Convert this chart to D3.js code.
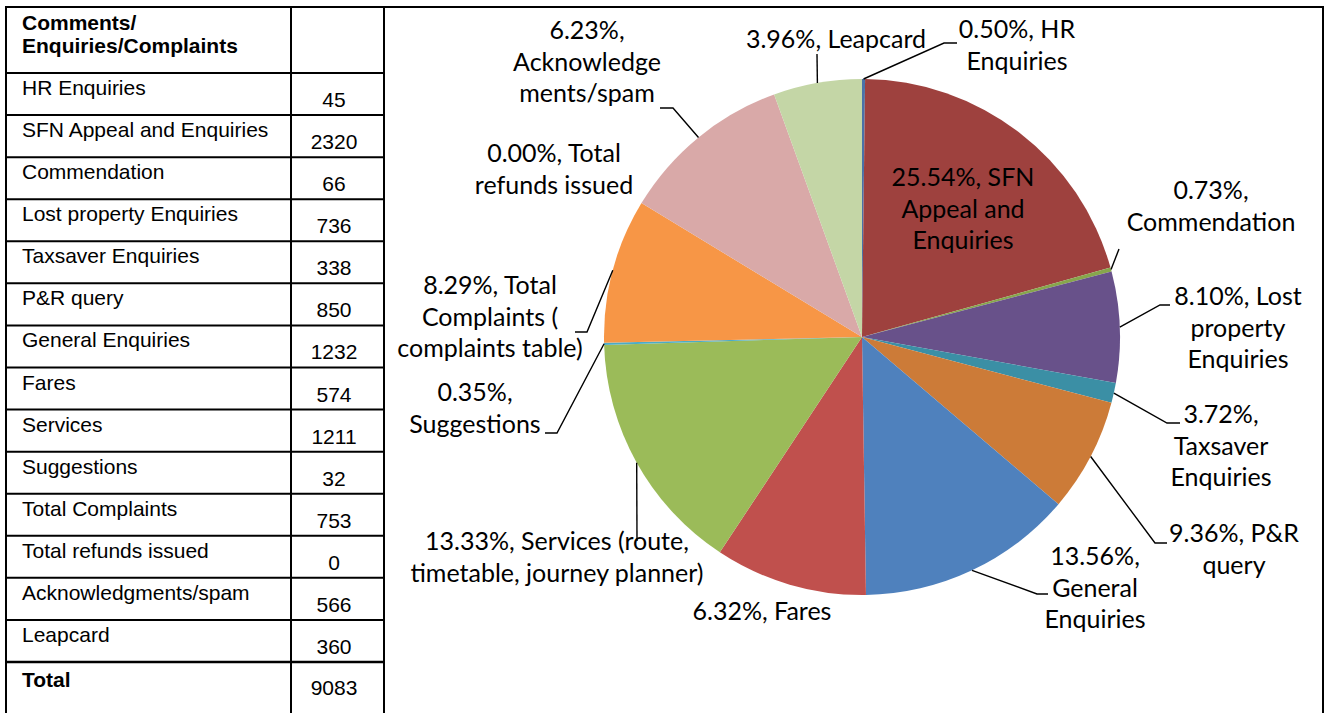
<!DOCTYPE html>
<html>
<head>
<meta charset="utf-8">
<script src="https://cdn.jsdelivr.net/npm/d3@7"></script>
<style>
  body { margin: 0; background: #fff; }
  svg { display: block; }
</style>
</head>
<body>
<div id="chart"></div>
<script>
// table data
var tableLabels = ["HR Enquiries", "SFN Appeal and Enquiries", "Commendation", "Lost property Enquiries",
    "Taxsaver Enquiries", "P&R query", "General Enquiries", "Fares", "Services", "Suggestions",
    "Total Complaints", "Total refunds issued", "Acknowledgments/spam", "Leapcard"];
var counts = [45, 2320, 66, 736, 338, 850, 1232, 574, 1211, 32, 753, 0, 566, 360];
var headerLines = ["Comments/", "Enquiries/Complaints"];
var totalLabel = "Total";

// slice sizes as they are drawn in the pie (% of the circle) - they differ from the labelled %s
var sliceShares = [0.19, 20.47, 0.25, 6.94, 1.25, 7.11, 13.53, 9.53, 15.22, 0.14, 9.03, 0, 10.78, 5.53];

// names used in the data labels, "|" = line break
var pieNames = ["HR|Enquiries", "SFN|Appeal and|Enquiries", "|Commendation", "Lost|property|Enquiries",
    "|Taxsaver|Enquiries", "P&R|query", "|General|Enquiries", "Fares", "Services (route,|timetable, journey planner)",
    "|Suggestions", "Total|Complaints (|complaints table)", "Total|refunds issued", "|Acknowledge|ments/spam", "Leapcard"];

var sliceColors = ["#4A72A8", "#9E413E", "#87A64C", "#68518A", "#3B8FA5", "#CC7B38", "#4F81BD",
    "#C0504D", "#9BBB59", "#4BACC6", "#F79646", "#8064A2", "#D9A9A8", "#C4D6A6"];

// label placement: centre x, first baseline, leader elbow points
var labelLayout = [
    { x: 1017, y: 38, leader: [[944, 43], [957, 43]] },
    { x: 963, y: 186, leader: null },
    { x: 1211, y: 199, leader: [[1119, 249]] },
    { x: 1238, y: 305, leader: [[1160, 305], [1170, 305]] },
    { x: 1221, y: 423, leader: [[1167, 423], [1180, 423]] },
    { x: 1234, y: 542, leader: [[1155, 543], [1167, 543]] },
    { x: 1095, y: 565, leader: [[1037, 594], [1048, 594]] },
    { x: 762, y: 620, leader: null },
    { x: 557, y: 550, leader: [[637, 541]] },
    { x: 475, y: 401, leader: [[557, 433], [545, 433]] },
    { x: 490, y: 294, leader: [[587, 332], [575, 332]] },
    { x: 554, y: 162, leader: null },
    { x: 587, y: 39, leader: [[673, 108], [660, 108]] },
    { x: 836, y: 48, leader: [[817, 54]] }
];

var width = 1327, height = 713;
var svg = d3.select("#chart").append("svg")
    .attr("width", width)
    .attr("height", height);

var total = d3.sum(counts);
var pctFormat = d3.format(".2%");

// ---------- table ----------
var colLeft = 6, colMid = 291, colRight = 384, boxRight = 1323;
var rowY = d3.scaleLinear().domain([0, tableLabels.length]).range([73, 662]);

var grid = svg.append("g").attr("stroke", "#000").attr("stroke-width", 2);
grid.append("line").attr("x1", colLeft - 1).attr("x2", boxRight + 1).attr("y1", 7).attr("y2", 7);
[colLeft, colMid, colRight, boxRight].forEach(x => {
    grid.append("line").attr("x1", x).attr("x2", x).attr("y1", 7).attr("y2", height + 5);
});
grid.selectAll("line.row")
    .data(d3.range(tableLabels.length + 1))
    .enter().append("line")
    .attr("class", "row")
    .attr("x1", colLeft).attr("x2", colRight)
    .attr("y1", d => rowY(d)).attr("y2", d => rowY(d))
    .attr("stroke-width", d => d === tableLabels.length ? 2.6 : 2);

var tableFont = "'Liberation Sans', Arial, sans-serif";
var tfs = 21;

svg.append("g").selectAll("text")
    .data(headerLines)
    .enter().append("text")
    .attr("x", 22).attr("y", (d, i) => 30 + i * 23)
    .style("font-family", tableFont).style("font-size", tfs + "px").style("font-weight", "bold")
    .text(d => d);

var rows = svg.append("g").selectAll("g")
    .data(tableLabels)
    .enter().append("g");
rows.append("text")
    .attr("x", 22).attr("y", (d, i) => rowY(i) + 22)
    .style("font-family", tableFont).style("font-size", tfs + "px")
    .text(d => d);
rows.append("text")
    .attr("x", 334).attr("y", (d, i) => rowY(i) + 34)
    .attr("text-anchor", "middle")
    .style("font-family", tableFont).style("font-size", tfs + "px")
    .text((d, i) => counts[i]);

svg.append("text")
    .attr("x", 22).attr("y", rowY(tableLabels.length) + 25)
    .style("font-family", tableFont).style("font-size", tfs + "px").style("font-weight", "bold")
    .text(totalLabel);
svg.append("text")
    .attr("x", 334).attr("y", rowY(tableLabels.length) + 33)
    .attr("text-anchor", "middle")
    .style("font-family", tableFont).style("font-size", tfs + "px")
    .text(total);

// ---------- pie ----------
var cx = 862, cy = 337, radius = 258;
var pie = d3.pie().sort(null).value(d => d);
var arcs = pie(sliceShares);
var arc = d3.arc().innerRadius(0).outerRadius(radius);
var edge = d3.arc().innerRadius(radius).outerRadius(radius);

var pieG = svg.append("g").attr("transform", `translate(${cx},${cy})`);
pieG.selectAll("path")
    .data(arcs)
    .enter().append("path")
    .attr("d", arc)
    .attr("fill", (d, i) => sliceColors[i]);

// leader lines
var line = d3.line();
svg.append("g").selectAll("path")
    .data(arcs.filter((d, i) => labelLayout[i].leader))
    .enter().append("path")
    .attr("d", d => {
        var p = edge.centroid(d);
        var start = [p[0] + cx, p[1] + cy];
        return line([start].concat(labelLayout[d.index].leader));
    })
    .attr("fill", "none")
    .attr("stroke", "#000")
    .attr("stroke-width", 1.4);

// data labels
var labelFont = "Lato, 'Open Sans', sans-serif";
var labels = svg.append("g").selectAll("text")
    .data(pieNames)
    .enter().append("text")
    .attr("text-anchor", "middle")
    .style("font-family", labelFont)
    .style("font-size", "25px")
    .attr("fill", "#000");
labels.each(function (d, i) {
    var txt = pctFormat(counts[i] / total) + ", " + d;
    var lines = txt.split("|").map(s => s.trim());
    d3.select(this).selectAll("tspan")
        .data(lines)
        .enter().append("tspan")
        .attr("x", labelLayout[i].x)
        .attr("y", (s, k) => labelLayout[i].y + k * 31.5)
        .text(s => s);
});
</script>
</body>
</html>
